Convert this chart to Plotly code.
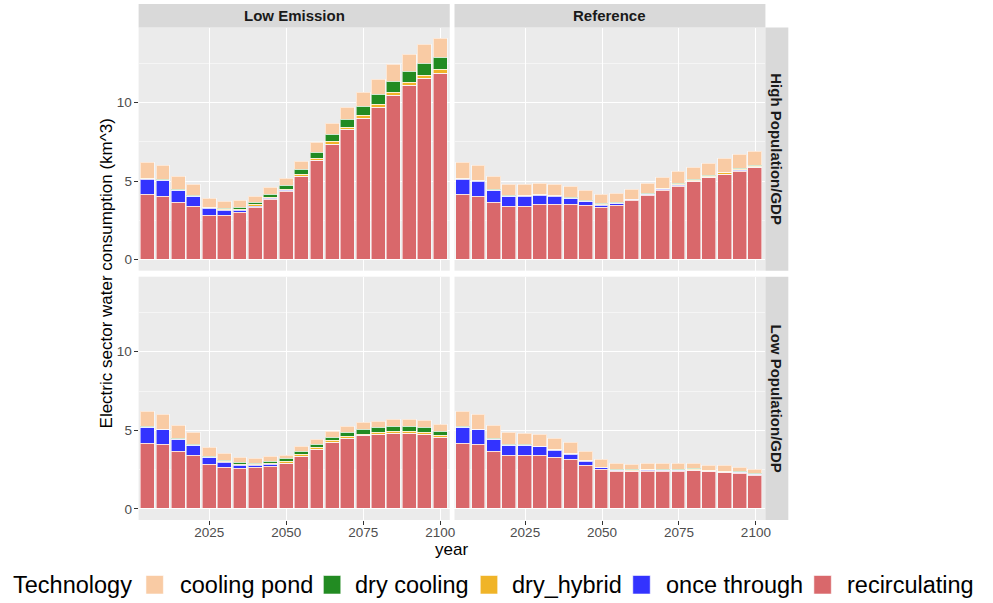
import plotly.graph_objects as go

# ---- data -------------------------------------------------------------
years = list(range(2005, 2101, 5))
technologies = ["recirculating", "once through", "dry_hybrid", "dry cooling", "cooling pond"]
tech_colors = {
    "recirculating": "#D9686B",
    "once through": "#3333FF",
    "dry_hybrid": "#F0B428",
    "dry cooling": "#228B22",
    "cooling pond": "#F9CBA4",
}
legend_order = ["cooling pond", "dry cooling", "dry_hybrid", "once through", "recirculating"]
scenarios = ["Low Emission", "Reference"]
socioeconomics = ["High Population/GDP", "Low Population/GDP"]
y_ticks = [0, 5, 10]
x_ticks = [2025, 2050, 2075, 2100]

# Low Emission / High Population/GDP
le_high_recirc = [4.13, 4.03, 3.64, 3.37, 2.84, 2.78, 2.99, 3.33, 3.83, 4.36, 5.30, 6.31, 7.35, 8.26, 9.00, 9.68, 10.47, 11.06, 11.53, 11.86]
le_high_once = [1.00, 1.00, 0.77, 0.66, 0.44, 0.33, 0.16, 0.08, 0.05, 0.02, 0.00, 0.00, 0.00, 0.00, 0.00, 0.00, 0.00, 0.00, 0.00, 0.00]
le_high_hybrid = [0.02, 0.02, 0.02, 0.02, 0.02, 0.06, 0.06, 0.07, 0.05, 0.08, 0.12, 0.13, 0.15, 0.15, 0.15, 0.17, 0.19, 0.19, 0.21, 0.26]
le_high_dry = [0.02, 0.02, 0.02, 0.02, 0.03, 0.07, 0.12, 0.19, 0.22, 0.29, 0.34, 0.40, 0.49, 0.53, 0.62, 0.66, 0.65, 0.72, 0.74, 0.72]
le_high_pond = [1.02, 0.90, 0.83, 0.70, 0.55, 0.47, 0.44, 0.38, 0.43, 0.40, 0.47, 0.60, 0.68, 0.76, 0.84, 0.93, 1.08, 1.08, 1.19, 1.23]

# Reference / High Population/GDP
ref_high_recirc = [4.13, 4.03, 3.64, 3.37, 3.37, 3.50, 3.54, 3.54, 3.43, 3.31, 3.45, 3.75, 4.09, 4.39, 4.68, 4.98, 5.23, 5.42, 5.64, 5.87]
ref_high_once = [1.00, 0.97, 0.77, 0.66, 0.68, 0.61, 0.51, 0.36, 0.28, 0.14, 0.11, 0.06, 0.03, 0.05, 0.03, 0.02, 0.02, 0.02, 0.01, 0.01]
ref_high_hybrid = [0.02, 0.02, 0.02, 0.02, 0.02, 0.02, 0.02, 0.02, 0.02, 0.06, 0.04, 0.02, 0.05, 0.06, 0.05, 0.06, 0.05, 0.08, 0.09, 0.06]
ref_high_dry = [0.02, 0.02, 0.02, 0.02, 0.04, 0.03, 0.03, 0.02, 0.03, 0.04, 0.05, 0.02, 0.03, 0.06, 0.07, 0.07, 0.06, 0.05, 0.09, 0.06]
ref_high_pond = [1.02, 0.93, 0.83, 0.70, 0.66, 0.67, 0.67, 0.74, 0.65, 0.58, 0.54, 0.60, 0.63, 0.65, 0.76, 0.74, 0.78, 0.85, 0.84, 0.91]

# Low Emission / Low Population/GDP
le_low_recirc = [4.15, 4.07, 3.67, 3.39, 2.84, 2.63, 2.56, 2.63, 2.71, 2.90, 3.35, 3.77, 4.19, 4.47, 4.64, 4.72, 4.81, 4.81, 4.72, 4.56]
le_low_once = [1.02, 0.95, 0.74, 0.64, 0.43, 0.31, 0.22, 0.10, 0.08, 0.00, 0.00, 0.00, 0.00, 0.00, 0.00, 0.00, 0.00, 0.00, 0.00, 0.00]
le_low_hybrid = [0.02, 0.02, 0.02, 0.02, 0.02, 0.06, 0.05, 0.06, 0.07, 0.11, 0.10, 0.11, 0.13, 0.11, 0.11, 0.11, 0.11, 0.11, 0.11, 0.08]
le_low_dry = [0.02, 0.02, 0.02, 0.02, 0.04, 0.07, 0.09, 0.09, 0.13, 0.17, 0.22, 0.23, 0.24, 0.27, 0.31, 0.32, 0.31, 0.31, 0.34, 0.28]
le_low_pond = [1.00, 0.94, 0.85, 0.76, 0.55, 0.45, 0.36, 0.34, 0.32, 0.23, 0.27, 0.32, 0.36, 0.40, 0.41, 0.40, 0.45, 0.47, 0.44, 0.42]

# Reference / Low Population/GDP
ref_low_recirc = [4.15, 4.09, 3.67, 3.39, 3.39, 3.39, 3.26, 3.11, 2.78, 2.48, 2.35, 2.35, 2.39, 2.39, 2.39, 2.44, 2.37, 2.31, 2.27, 2.14]
ref_low_once = [1.02, 0.93, 0.74, 0.64, 0.64, 0.55, 0.47, 0.37, 0.25, 0.12, 0.09, 0.05, 0.03, 0.05, 0.04, 0.02, 0.01, 0.01, 0.01, 0.01]
ref_low_hybrid = [0.02, 0.02, 0.02, 0.02, 0.02, 0.02, 0.02, 0.02, 0.03, 0.02, 0.02, 0.05, 0.05, 0.02, 0.02, 0.02, 0.05, 0.05, 0.03, 0.06]
ref_low_dry = [0.02, 0.02, 0.02, 0.02, 0.04, 0.03, 0.03, 0.03, 0.04, 0.02, 0.04, 0.02, 0.03, 0.04, 0.05, 0.06, 0.02, 0.02, 0.05, 0.02]
ref_low_pond = [1.00, 0.94, 0.85, 0.76, 0.70, 0.73, 0.69, 0.66, 0.57, 0.50, 0.40, 0.37, 0.38, 0.40, 0.40, 0.36, 0.33, 0.34, 0.27, 0.29]

panels = {
    ("High Population/GDP", "Low Emission"): [le_high_recirc, le_high_once, le_high_hybrid, le_high_dry, le_high_pond],
    ("High Population/GDP", "Reference"): [ref_high_recirc, ref_high_once, ref_high_hybrid, ref_high_dry, ref_high_pond],
    ("Low Population/GDP", "Low Emission"): [le_low_recirc, le_low_once, le_low_hybrid, le_low_dry, le_low_pond],
    ("Low Population/GDP", "Reference"): [ref_low_recirc, ref_low_once, ref_low_hybrid, ref_low_dry, ref_low_pond],
}

# ---- layout geometry (pixels of a 993 x 603 canvas) -------------------
W, H = 993, 603
FONT = "Liberation Sans, Arial, sans-serif"
col_px = [(139.3, 452.0), (456.8, 769.3)]
row_px = [(27.5, 270.7), (276.7, 520.0)]
strip_top = (4.0, 27.5)
strip_right = (769.3, 792.3)


def px_x(v):
    return v / W


def px_y(v):
    return 1 - v / H


fig = go.Figure()

for r, socio in enumerate(socioeconomics):
    for c, scen in enumerate(scenarios):
        idx = r * 2 + c + 1
        suffix = "" if idx == 1 else str(idx)
        series = panels[(socio, scen)]
        for tech, vals in zip(technologies, series):
            fig.add_trace(go.Bar(
                x=years, y=vals, width=4.5,
                name=tech,
                marker=dict(color=tech_colors[tech],
                            line=dict(color="rgba(255,255,255,0.55)", width=1)),
                xaxis="x" + suffix, yaxis="y" + suffix,
                showlegend=False,
                hovertemplate=tech + "<br>%{x}: %{y:.2f} km^3<extra></extra>",
            ))

        x0, x1 = col_px[c]
        y0, y1 = row_px[r]
        fig.layout["xaxis" + suffix] = dict(
            domain=[px_x(x0), px_x(x1)], anchor="y" + suffix,
            range=[2002.05, 2103.1], tickvals=x_ticks,
            showticklabels=(r == 1), ticks="outside" if r == 1 else "",
            ticklen=4, tickcolor="#333333", tickwidth=1,
            ticklabelstandoff=-4,
            tickfont=dict(size=13.5, color="#4d4d4d", family=FONT),
            showgrid=True, gridcolor="white", gridwidth=1.1,
            zeroline=False, showline=False, fixedrange=True,
        )
        fig.layout["yaxis" + suffix] = dict(
            domain=[px_y(y1), px_y(y0)], anchor="x" + suffix,
            range=[-0.70, 14.77], tickvals=y_ticks,
            showticklabels=(c == 0), ticks="outside" if c == 0 else "",
            ticklen=4, tickcolor="#333333", tickwidth=1,
            ticklabelstandoff=-1,
            tickfont=dict(size=13.5, color="#4d4d4d", family=FONT),
            showgrid=True, gridcolor="white", gridwidth=1.1,
            minor=dict(dtick=2.5, tick0=0, showgrid=True, gridcolor="#f5f5f5", gridwidth=0.5),
            zeroline=False, showline=False, fixedrange=True,
        )

shapes = []
annotations = []

# column strips
for c, scen in enumerate(scenarios):
    x0, x1 = col_px[c]
    shapes.append(dict(type="rect", xref="paper", yref="paper",
                       x0=px_x(x0), x1=px_x(x1), y0=px_y(strip_top[1]), y1=px_y(strip_top[0]),
                       fillcolor="#d9d9d9", line=dict(width=0), layer="below"))
    annotations.append(dict(text="<b>" + scen + "</b>", xref="paper", yref="paper",
                            x=px_x((x0 + x1) / 2), y=px_y(sum(strip_top) / 2),
                            xanchor="center", yanchor="middle", showarrow=False,
                            font=dict(size=15, color="#1a1a1a", family=FONT)))

# row strips
for r, socio in enumerate(socioeconomics):
    y0, y1 = row_px[r]
    shapes.append(dict(type="rect", xref="paper", yref="paper",
                       x0=px_x(strip_right[0]), x1=px_x(strip_right[1]), y0=px_y(y1), y1=px_y(y0),
                       fillcolor="#d9d9d9", line=dict(width=0), layer="below"))
    annotations.append(dict(text="<b>" + socio + "</b>", xref="paper", yref="paper",
                            x=px_x(sum(strip_right) / 2), y=px_y((y0 + y1) / 2),
                            xanchor="center", yanchor="middle", showarrow=False, textangle=90,
                            font=dict(size=15, color="#1a1a1a", family=FONT)))

# axis titles
annotations.append(dict(text="Electric sector water consumption (km^3)", xref="paper", yref="paper",
                        x=px_x(107), y=px_y(273), xanchor="center", yanchor="middle",
                        showarrow=False, textangle=-90,
                        font=dict(size=17, color="black", family=FONT)))
annotations.append(dict(text="year", xref="paper", yref="paper",
                        x=px_x(453.5), y=px_y(549), xanchor="center", yanchor="middle",
                        showarrow=False, font=dict(size=17, color="black", family=FONT)))

# legend row
legend_y = 584.5
annotations.append(dict(text="Technology", xref="paper", yref="paper",
                        x=px_x(11), y=px_y(legend_y), xanchor="left", yanchor="middle",
                        showarrow=False, font=dict(size=23.5, color="black", family=FONT)))
swatch_left = [146.7, 325.0, 482.7, 636.0, 818.0]
label_left = [178.7, 355.0, 512.7, 667.0, 849.0]
for tech, sx, lx in zip(legend_order, swatch_left, label_left):
    shapes.append(dict(type="rect", xref="paper", yref="paper",
                       x0=px_x(sx), x1=px_x(sx + 17.5), y0=px_y(594), y1=px_y(575.5),
                       fillcolor=tech_colors[tech], line=dict(color="rgba(255,255,255,0.55)", width=1)))
    annotations.append(dict(text=tech, xref="paper", yref="paper",
                            x=px_x(lx), y=px_y(legend_y), xanchor="left", yanchor="middle",
                            showarrow=False, font=dict(size=23.5, color="black", family=FONT)))

fig.update_layout(
    width=W, height=H,
    margin=dict(l=0, r=0, t=0, b=0),
    paper_bgcolor="white", plot_bgcolor="#ebebeb",
    barmode="stack", bargap=0,
    showlegend=False,
    shapes=shapes, annotations=annotations,
    font=dict(family=FONT),
)

fig.write_html("out.html")
